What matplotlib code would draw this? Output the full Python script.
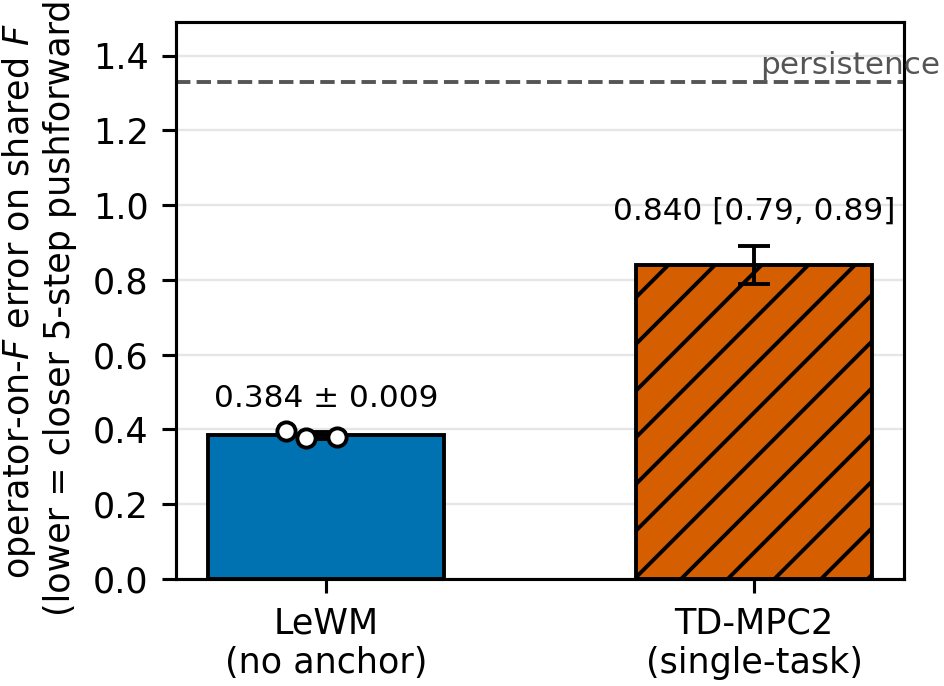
import numpy as np
import matplotlib.pyplot as plt

labels = ['LeWM\n(no anchor)', 'TD-MPC2\n(single-task)']
means = [0.384, 0.840]
colors = ['#0072B2', '#D55E00']
hatches = ['', '//']
lewm_seeds = [0.396, 0.377, 0.379]
lewm_std = 0.009
tdmpc_ci = [0.79, 0.89]
persistence = 1.33
yticks = [0.0, 0.2, 0.4, 0.6, 0.8, 1.0, 1.2, 1.4]

plt.rcParams['hatch.linewidth'] = 1.0
fig = plt.figure(figsize=(944 / 280, 686 / 280), dpi=280)
ax = fig.add_axes([0.1864, 0.156, 0.7712, 0.812])

x = np.arange(len(labels))
ax.bar(x, means, width=0.55, color=colors, edgecolor='black', linewidth=1.0,
       hatch=hatches, zorder=2)

# LeWM: seed dots + std errorbar
ax.errorbar(x[0], means[0], yerr=lewm_std, color='black', capsize=4,
            capthick=1.0, elinewidth=1.0, zorder=3)
jitter = [-0.092, -0.046, 0.027]
ax.scatter(x[0] + np.array(jitter), lewm_seeds, s=22, facecolor='white',
           edgecolor='black', linewidth=1.0, zorder=4)
ax.text(x[0], means[0] + lewm_std + 0.05, f'{means[0]:.3f} ± {lewm_std:.3f}',
        ha='center', va='bottom', fontsize=8)

# TD-MPC2: CI errorbar
yerr = [[means[1] - tdmpc_ci[0]], [tdmpc_ci[1] - means[1]]]
ax.errorbar(x[1], means[1], yerr=yerr, color='black', capsize=4,
            capthick=1.0, elinewidth=1.0, zorder=3)
ax.text(x[1], tdmpc_ci[1] + 0.055,
        f'{means[1]:.3f} [{tdmpc_ci[0]:.2f}, {tdmpc_ci[1]:.2f}]',
        ha='center', va='bottom', fontsize=8)

ax.axhline(persistence, color='#555555', linestyle='--', linewidth=1.0, zorder=1)
ax.text(1.05, persistence + 0.005, 'persistence', transform=ax.get_yaxis_transform(),
        ha='right', va='bottom', fontsize=8, color='#555555', clip_on=False)

ax.set_xlim(-0.35, 1.35)
ax.set_ylim(0, 1.49)
ax.set_yticks(yticks)
ax.set_xticks(x)
ax.set_xticklabels(labels, fontsize=9)
ax.tick_params(axis='y', labelsize=9)
ax.set_ylabel('operator-on-$F$ error on shared $F$\n(lower = closer 5-step pushforward)',
              fontsize=9)
ax.yaxis.grid(True, color='#e6e6e6', linewidth=0.6, zorder=0)
ax.set_axisbelow(True)

fig.savefig('out.png', dpi=280)
